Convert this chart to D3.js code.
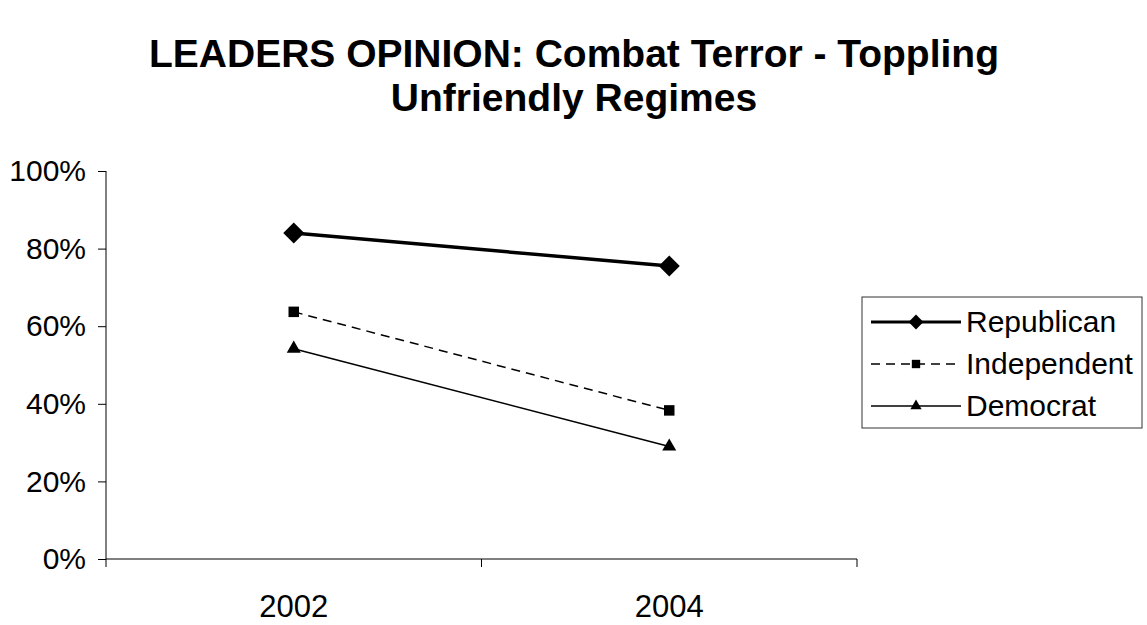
<!DOCTYPE html>
<html>
<head>
<meta charset="utf-8">
<script src="https://cdn.jsdelivr.net/npm/d3@7"></script>
<style>
  body { margin: 0; background: #fff; }
  text { font-family: Arial, "Liberation Sans", sans-serif; fill: #000; }
</style>
</head>
<body>
<svg id="chart" width="1147" height="625"></svg>
<script>
// data
const years = ['2002', '2004'];
const republican = [0.84, 0.755];
const independent = [0.637, 0.383];
const democrat = [0.542, 0.29];
const yTicks = [0, 0.2, 0.4, 0.6, 0.8, 1];
const titleLines = ['LEADERS OPINION: Combat Terror - Toppling', 'Unfriendly Regimes'];

const series = [
  { name: 'Republican', values: republican, width: 3.5, dash: null, symbol: d3.symbolSquare, rot: 45, size: 220, lsize: 110 },
  { name: 'Independent', values: independent, width: 1.5, dash: '9,6', symbol: d3.symbolSquare, rot: 0, size: 110, lsize: 70 },
  { name: 'Democrat', values: democrat, width: 1.5, dash: null, symbol: d3.symbolTriangle, rot: 0, size: 85, lsize: 55 }
];

const svg = d3.select('#chart');

// title
svg.append('g')
  .selectAll('text')
  .data(titleLines)
  .enter()
  .append('text')
  .attr('x', 574)
  .attr('y', (d, i) => 67 + i * 44)
  .attr('text-anchor', 'middle')
  .style('font-size', '39px')
  .style('font-weight', 'bold')
  .text(d => d);

const x = d3.scaleBand().domain(years).range([106, 857]).padding(0);
const y = d3.scaleLinear().domain([0, 1]).range([559, 171]);

// y axis
const yAxis = svg.append('g')
  .attr('transform', 'translate(106,0)')
  .call(d3.axisLeft(y).tickValues(yTicks).tickFormat(d3.format('.0%')).tickSize(8).tickPadding(12));
yAxis.selectAll('text').style('font-size', '30px').style('font-family', 'Arial, "Liberation Sans", sans-serif');
yAxis.selectAll('path, line').attr('stroke', '#000');
yAxis.select('.domain').attr('d', `M0,${y(1)}V${y(0)}`);

// x axis: ticks on the band edges, labels in the middle
const xg = svg.append('g').attr('transform', `translate(0,${y(0)})`);
xg.append('line')
  .attr('x1', x.range()[0]).attr('x2', x.range()[1])
  .attr('stroke', '#000');
const edges = years.map(d => x(d)).concat([x.range()[1]]);
xg.selectAll('.tick')
  .data(edges)
  .enter()
  .append('line')
  .attr('x1', d => d).attr('x2', d => d)
  .attr('y1', 0).attr('y2', 8)
  .attr('stroke', '#000');
xg.selectAll('.label')
  .data(years)
  .enter()
  .append('text')
  .attr('x', d => x(d) + x.bandwidth() / 2)
  .attr('y', 58)
  .attr('text-anchor', 'middle')
  .style('font-size', '31px')
  .text(d => d);

// lines + markers
const line = d3.line()
  .x((d, i) => x(years[i]) + x.bandwidth() / 2)
  .y(d => y(d));

series.forEach(s => {
  svg.append('path')
    .datum(s.values)
    .attr('d', line)
    .attr('fill', 'none')
    .attr('stroke', '#000')
    .attr('stroke-width', s.width)
    .attr('stroke-dasharray', s.dash);
  svg.append('g')
    .selectAll('path')
    .data(s.values)
    .enter()
    .append('path')
    .attr('d', d3.symbol().type(s.symbol).size(s.size))
    .attr('transform', (d, i) => `translate(${x(years[i]) + x.bandwidth() / 2},${y(d)}) rotate(${s.rot})`)
    .attr('fill', '#000');
});

// legend
const legend = svg.append('g').attr('transform', 'translate(862,297)');
legend.append('rect')
  .attr('width', 280).attr('height', 131)
  .attr('fill', '#fff')
  .attr('stroke', '#333')
  .attr('stroke-width', 1);
const items = legend.selectAll('.item')
  .data(series)
  .enter()
  .append('g')
  .attr('transform', (d, i) => `translate(0,${25 + i * 42})`);
items.append('line')
  .attr('x1', 9).attr('x2', 99)
  .attr('stroke', '#000')
  .attr('stroke-width', d => d.width * 0.85)
  .attr('stroke-dasharray', d => d.dash);
items.append('path')
  .attr('d', d => d3.symbol().type(d.symbol).size(d.lsize)())
  .attr('transform', d => `translate(54,0) rotate(${d.rot})`)
  .attr('fill', '#000');
items.append('text')
  .attr('x', 104)
  .attr('y', 10)
  .style('font-size', '30px')
  .text(d => d.name);
</script>
</body>
</html>
